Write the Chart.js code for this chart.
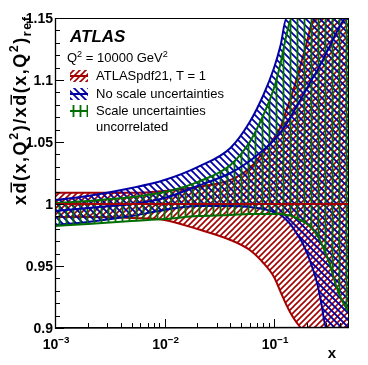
<!DOCTYPE html>
<html><head><meta charset="utf-8">
<script src="https://cdn.jsdelivr.net/npm/chart.js@4.4.1/dist/chart.umd.min.js"></script>
<style>html,body{margin:0;padding:0;background:#fff}#wrap{width:368px;height:365px}</style>
</head><body><div id="wrap"><canvas id="c" width="368" height="365"></canvas></div>
<script>
// ---- data ----
const xValues = [0.001, 0.002, 0.005, 0.01, 0.02, 0.04, 0.06, 0.08, 0.1, 0.115, 0.13, 0.145, 0.16, 0.18, 0.2, 0.22, 0.25, 0.27, 0.3, 0.32, 0.35, 0.37, 0.4, 0.44, 0.484];
const redCentral = [1,1,1,1,1,1,1,1,1,1,1,1,1,1,1,1,1,1,1,1,1,1,1,1,1];
const redUpper = [1.009,1.009,1.009,1.0105,1.0137,1.0194,1.029,1.0419,1.0532,1.0621,1.0758,1.0879,1.1,1.1161,1.1306,1.1452,1.15,1.15,1.15,1.15,1.15,1.15,1.15,1.15,1.15];
const redLower = [0.9895,0.9895,0.9887,0.9871,0.9798,0.971,0.9629,0.9524,0.9411,0.929,0.9185,0.9105,0.9048,0.9,0.9,0.9,0.9,0.9,0.9,0.9,0.9,0.9,0.9,0.9,0.9];
const blueCentral = [0.9944,0.9968,1.0,1.0048,1.0145,1.025,1.0347,1.0435,1.0516,1.0581,1.0645,1.0718,1.0782,1.0863,1.0935,1.1,1.1081,1.1137,1.1218,1.1266,1.1339,1.1379,1.1435,1.1492,1.15];
const blueUpper = [1.0032,1.0065,1.0129,1.0194,1.0298,1.0452,1.0661,1.0879,1.1097,1.1282,1.15,1.15,1.15,1.15,1.15,1.15,1.15,1.15,1.15,1.15,1.15,1.15,1.15,1.15,1.15];
const blueLower = [0.9831,0.9855,0.9903,0.9952,0.9984,0.9984,0.9976,0.996,0.9935,0.9911,0.9871,0.9823,0.9766,0.9694,0.9605,0.9508,0.9347,0.9202,0.9,0.9,0.9,0.9,0.9,0.9,0.9];
const greenUpper = [1.0008,1.0024,1.0056,1.0097,1.0177,1.0315,1.05,1.0718,1.0935,1.1137,1.1363,1.15,1.15,1.15,1.15,1.15,1.15,1.15,1.15,1.15,1.15,1.15,1.15,1.15,1.15];
const greenLower = [0.9823,0.9839,0.9863,0.9879,0.9903,0.9911,0.9919,0.9919,0.9919,0.9919,0.9911,0.9903,0.9887,0.9863,0.9839,0.9806,0.9742,0.9685,0.9589,0.9524,0.9411,0.9339,0.9258,0.9185,0.9129];
const xRange = [0.001, 0.484];
const yRange = [0.9, 1.15];
const yMajorTicks = [0.9, 0.95, 1.0, 1.05, 1.1, 1.15];
const yTickLabels = ['0.9', '0.95', '1', '1.05', '1.1', '1.15'];
const xMajorTicks = [0.001, 0.01, 0.1];
const xTickExponents = ['\u22123', '\u22122', '\u22121'];
const legendLabels = ['ATLASpdf21, T = 1', 'No scale uncertainties', 'Scale uncertainties', 'uncorrelated'];

// ---- styles ----
const RED = 'rgb(165,0,0)', BLUE = 'rgb(0,0,165)', GREEN = 'rgb(0,110,0)';
const FONT = '"Liberation Sans", Arial, Helvetica, sans-serif';

function hatch(color, type, s, lw) {
  const c = document.createElement('canvas'); c.width = s; c.height = s;
  const g = c.getContext('2d'); g.strokeStyle = color; g.lineWidth = lw; g.beginPath();
  if (type === '/') {
    g.moveTo(0, s); g.lineTo(s, 0); g.moveTo(-1, 1); g.lineTo(1, -1); g.moveTo(s - 1, s + 1); g.lineTo(s + 1, s - 1);
  } else if (type === '\\') {
    g.moveTo(0, 0); g.lineTo(s, s); g.moveTo(s - 1, -1); g.lineTo(s + 1, 1); g.moveTo(-1, s - 1); g.lineTo(1, s + 1);
  } else {
    g.moveTo(s / 2, 0); g.lineTo(s / 2, s);
  }
  g.stroke();
  return g.createPattern(c, 'repeat');
}
const redPat = hatch(RED, '/', 6, 1.6);
const bluePat = hatch(BLUE, '\\', 7, 1.8);
const greenPat = hatch(GREEN, '|', 7, 1.8);

const pts = arr => arr.map((v, i) => ({x: xValues[i], y: v}));
function ds(arr, color, order, fill, pat) {
  return {data: pts(arr), borderColor: color, borderWidth: 2, pointRadius: 0, order: order,
    cubicInterpolationMode: 'monotone', fill: fill ? '-1' : false, backgroundColor: pat || 'transparent'};
}

function runs(ctx, list, x, y, size, weight, style, gap) {
  let cx = x; gap = gap || 0;
  for (const r of list) {
    const fs = (r.sup || r.sub) ? size * 0.7 : size;
    ctx.font = `${style || ''} ${weight || ''} ${fs}px ${FONT}`;
    const dy = r.sup ? -size * 0.42 : (r.sub ? size * 0.3 : 0);
    for (const ch of r.t) {
      ctx.fillText(ch, cx, y + dy);
      const w = ctx.measureText(ch).width;
      if (r.bar) ctx.fillRect(cx + 1, y - size * 0.86, w - 1, Math.max(1.2, size * 0.08));
      cx += w + gap;
    }
  }
  return cx - x;
}
function runsWidth(ctx, list, size, weight, style) {
  let w = 0, n = 0;
  for (const r of list) {
    const fs = (r.sup || r.sub) ? size * 0.7 : size;
    ctx.font = `${style || ''} ${weight || ''} ${fs}px ${FONT}`;
    for (const ch of r.t) { w += ctx.measureText(ch).width; n++; }
  }
  return {w, n};
}

const decor = {
  id: 'decor',
  afterDraw(chart) {
    const ctx = chart.ctx, a = chart.chartArea, xs = chart.scales.x, ys = chart.scales.y;
    ctx.save();
    ctx.fillStyle = '#000'; ctx.strokeStyle = '#000'; ctx.lineWidth = 1;
    ctx.strokeRect(a.left + 0.5, a.top + 0.5, a.right - a.left - 1, a.bottom - a.top - 1);
    ctx.lineWidth = 1.3;
    ctx.beginPath(); ctx.moveTo(a.left + 0.5, a.top); ctx.lineTo(a.left + 0.5, a.bottom); ctx.lineTo(a.right, a.bottom - 0.5); ctx.stroke();
    ctx.lineWidth = 1;
    ctx.beginPath();
    for (let k = 0; k <= 25; k++) {
      const v = yRange[0] + k * 0.01;
      const py = Math.round(ys.getPixelForValue(v)) + 0.5;
      const len = (k % 5 === 0) ? 9 : 5;
      ctx.moveTo(a.left, py); ctx.lineTo(a.left + len, py);
    }
    for (let e = -3; e <= -1; e++) {
      for (let m = 1; m <= 9; m++) {
        const v = m * Math.pow(10, e);
        if (v < xRange[0] - 1e-12 || v > xRange[1]) continue;
        const px = Math.round(xs.getPixelForValue(v)) + 0.5;
        const len = m === 1 ? 9 : 5;
        ctx.moveTo(px, a.bottom); ctx.lineTo(px, a.bottom - len);
      }
    }
    ctx.stroke();
    ctx.textAlign = 'right'; ctx.textBaseline = 'middle';
    ctx.font = `bold 14px ${FONT}`;
    yMajorTicks.forEach((v, i) => ctx.fillText(yTickLabels[i], a.left - 2, ys.getPixelForValue(v) + 1));
    ctx.textAlign = 'left'; ctx.textBaseline = 'alphabetic';
    xMajorTicks.forEach((v, i) => {
      const list = [{t: '10'}, {t: xTickExponents[i], sup: true}];
      const m = runsWidth(ctx, list, 14, 'bold');
      runs(ctx, list, xs.getPixelForValue(v) - m.w / 2 + 1, 349, 14, 'bold');
    });
    ctx.font = `bold 15px ${FONT}`; ctx.textAlign = 'right';
    ctx.fillText('x', 336, 358);
    ctx.textAlign = 'left';
    // y title, spread over the same span as in the reference
    const yt = [{t: 'x'}, {t: 'd', bar: true}, {t: '(x,Q'}, {t: '2', sup: true}, {t: ')/x'}, {t: 'd', bar: true}, {t: '(x,Q'}, {t: '2', sup: true}, {t: ')'}, {t: 'ref.', sub: true}];
    const tSize = 18, tTop = 12, tBottom = 205;
    const m = runsWidth(ctx, yt, tSize, 'bold');
    const gap = Math.max(0, ((tBottom - tTop) - m.w) / (m.n - 1));
    ctx.save();
    ctx.translate(26, 0); ctx.rotate(-Math.PI / 2);
    runs(ctx, yt, -tBottom, 0, tSize, 'bold', '', gap);
    ctx.restore();
    ctx.font = `italic bold 17px ${FONT}`;
    ctx.fillText('ATLAS', 70, 42);
    runs(ctx, [{t: 'Q'}, {t: '2', sup: true}, {t: ' = 10000 GeV'}, {t: '2', sup: true}], 67, 62, 13, '');
    const rows = [[RED, redPat, 76, legendLabels[0]], [BLUE, bluePat, 94, legendLabels[1]], [GREEN, greenPat, 111, legendLabels[2]]];
    for (const [col, pat, cy, label] of rows) {
      ctx.fillStyle = pat; ctx.fillRect(70, cy - 6, 18, 12);
      ctx.strokeStyle = col; ctx.lineWidth = 2;
      ctx.beginPath(); ctx.moveTo(70, cy); ctx.lineTo(88, cy); ctx.stroke();
      ctx.fillStyle = '#000'; ctx.font = `13px ${FONT}`; ctx.textBaseline = 'middle';
      ctx.fillText(label, 96, cy);
    }
    ctx.fillText(legendLabels[3], 96, 127);
    ctx.restore();
  }
};

new Chart(document.getElementById('c'), {
  type: 'line',
  data: {
    datasets: [
      ds(redUpper, RED, 9, false),
      ds(redLower, RED, 8, true, redPat),
      ds(blueUpper, BLUE, 7, false),
      ds(blueLower, BLUE, 6, true, bluePat),
      ds(greenUpper, GREEN, 5, false),
      ds(greenLower, GREEN, 4, true, greenPat),
      ds(blueCentral, BLUE, 2, false),
      ds(redCentral, RED, 1, false)
    ]
  },
  options: {
    responsive: false, animation: false, devicePixelRatio: 1,
    layout: {padding: {left: 55, right: 19, top: 18, bottom: 37}},
    scales: {
      x: {type: 'logarithmic', min: xRange[0], max: xRange[1], display: false},
      y: {type: 'linear', min: yRange[0], max: yRange[1], display: false}
    },
    plugins: {legend: {display: false}, tooltip: {enabled: false}, filler: {drawTime: 'beforeDatasetDraw'}}
  },
  plugins: [decor]
});
</script>
</body></html>
